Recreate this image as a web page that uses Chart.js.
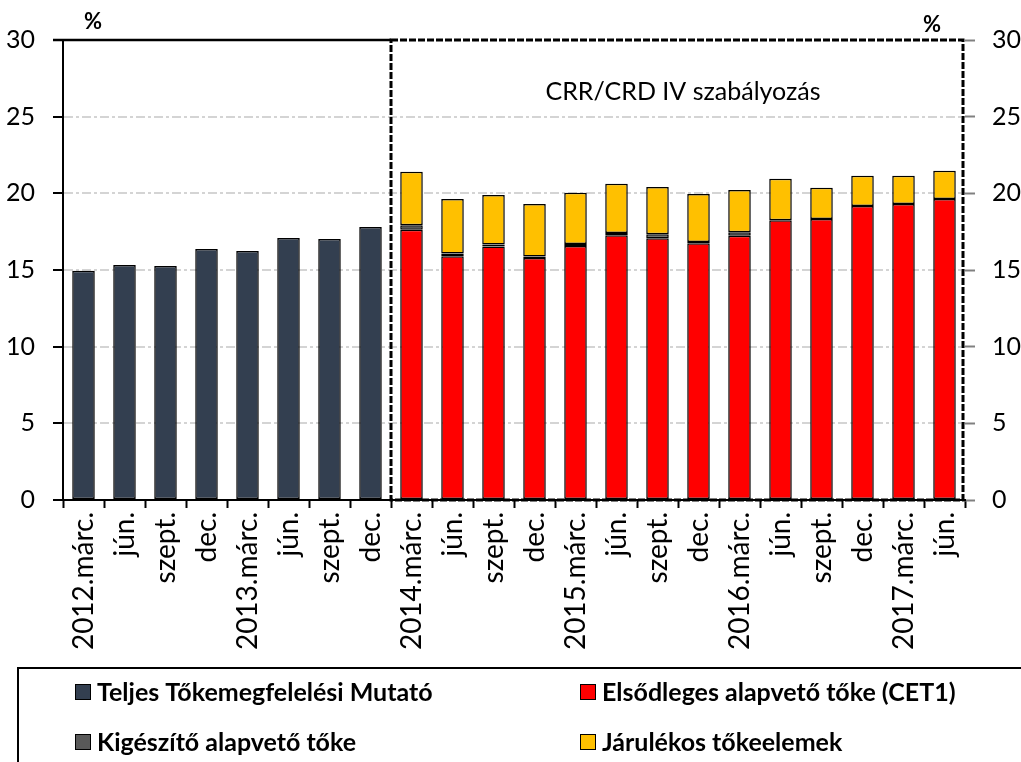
<!DOCTYPE html>
<html><head><meta charset="utf-8">
<script src="https://cdn.jsdelivr.net/npm/chart.js@4.4.0/dist/chart.umd.min.js"></script>
<style>html,body{margin:0;padding:0;background:#fff;} #wrap{width:1021px;height:762px;position:relative;}</style>
</head><body><div id="wrap"><canvas id="c" width="1021" height="762"></canvas></div>
<script>
const categories = ['2012.márc.','jún.','szept.','dec.','2013.márc.','jún.','szept.','dec.',
  '2014.márc.','jún.','szept.','dec.','2015.márc.','jún.','szept.','dec.',
  '2016.márc.','jún.','szept.','dec.','2017.márc.','jún.'];
const totalCapitalRatio = [14.95, 15.33, 15.26, 16.37, 16.24, 17.08, 17.02, 17.8,
  null, null, null, null, null, null, null, null, null, null, null, null, null, null];
const cet1 = [null, null, null, null, null, null, null, null,
  17.63, 15.9, 16.54, 15.79, 16.56, 17.26, 17.07, 16.74, 17.24, 18.25, 18.32, 19.17, 19.3, 19.63];
const additionalTier1 = [null, null, null, null, null, null, null, null,
  0.29, 0.18, 0.13, 0.09, 0.13, 0.15, 0.26, 0.08, 0.22, 0, 0, 0, 0, 0];
const tier2 = [null, null, null, null, null, null, null, null,
  3.49, 3.55, 3.22, 3.42, 3.34, 3.21, 3.09, 3.14, 2.76, 2.70, 2.04, 1.97, 1.84, 1.84];
const seriesNames = ['Teljes Tőkemegfelelési Mutató', 'Elsődleges alapvető tőke (CET1)',
  'Kigészítő alapvető tőke', 'Járulékos tőkeelemek'];
const regimeLabel = 'CRR/CRD IV szabályozás';
const unitLabel = '%';

const FONT = "Lato, 'Open Sans', sans-serif";
Chart.defaults.font.family = FONT;
Chart.defaults.color = '#000';

const overlay = {
  id: 'overlay',
  afterDraw(chart) {
    const ctx = chart.ctx, a = chart.chartArea, xs = chart.scales.x;
    const firstIdx = cet1.findIndex(v => v !== null);
    const bx = xs.getPixelForValue(firstIdx - 0.5);
    ctx.save();
    ctx.strokeStyle = '#000'; ctx.lineWidth = 2.5;
    ctx.beginPath(); ctx.moveTo(a.left - 10, a.top); ctx.lineTo(bx, a.top); ctx.stroke();
    ctx.lineWidth = 3; ctx.setLineDash([7, 2]);
    ctx.strokeRect(bx, a.top, a.right - 2 - bx, a.bottom - a.top);
    ctx.setLineDash([]);
    ctx.fillStyle = '#000';
    ctx.font = "25px " + FONT;
    ctx.textAlign = 'center'; ctx.textBaseline = 'middle';
    ctx.fillText(regimeLabel, (bx + a.right) / 2 + 5, a.top + 52);
    ctx.font = "bold 22px " + FONT;
    ctx.fillText(unitLabel, 93, 22);
    ctx.fillText(unitLabel, 932, 25);
    ctx.lineWidth = 2; ctx.strokeStyle = '#000';
    ctx.strokeRect(18, 668, 1100, 200);
    const cols = [75, 580], rows = [692, 742];
    ctx.font = "bold 25px " + FONT; ctx.textAlign = 'left';
    chart.data.datasets.forEach((ds, i) => {
      const x = cols[i % 2], y = rows[Math.floor(i / 2)];
      ctx.fillStyle = ds.backgroundColor;
      ctx.fillRect(x, y - 8, 16, 16);
      ctx.lineWidth = 1; ctx.strokeStyle = '#000';
      ctx.strokeRect(x + 0.5, y - 7.5, 15, 15);
      ctx.fillStyle = '#000';
      ctx.fillText(ds.label, x + 22, y + 1);
    });
    ctx.restore();
  }
};

new Chart(document.getElementById('c'), {
  type: 'bar',
  data: {
    labels: categories,
    datasets: [
      { label: seriesNames[0], data: totalCapitalRatio, backgroundColor: '#333f50' },
      { label: seriesNames[1], data: cet1, backgroundColor: '#ff0000' },
      { label: seriesNames[2], data: additionalTier1, backgroundColor: '#595959' },
      { label: seriesNames[3], data: tier2, backgroundColor: '#ffc000' }
    ].map(d => Object.assign(d, { borderColor: '#000', borderWidth: 1.5, borderSkipped: false,
      categoryPercentage: 1, barPercentage: 0.55 }))
  },
  options: {
    responsive: false, animation: false, devicePixelRatio: 1,
    layout: { padding: { left: 0, right: 0, top: 40, bottom: 94 } },
    plugins: { legend: { display: false }, tooltip: { enabled: false } },
    scales: {
      x: {
        stacked: true, offset: true,
        grid: { offset: true, drawOnChartArea: false, drawTicks: true, tickLength: 8, tickColor: '#000', tickWidth: 2 },
        border: { color: '#000', width: 2 },
        ticks: { minRotation: 90, maxRotation: 90, autoSkip: false, padding: 4, color: '#000', font: { size: 28 } },
        afterFit(s) { s.height = 168; }
      },
      y: {
        position: 'left', stacked: true, min: 0, max: 30,
        ticks: { stepSize: 5, padding: 18, color: '#000', font: { size: 25 } },
        grid: { color: c => (c.tick && (c.tick.value === 30 || c.tick.value === 0)) ? 'rgba(0,0,0,0)' : '#d4d4d4',
          lineWidth: 2, tickColor: '#000', tickWidth: 2, tickLength: 10 },
        border: { color: '#000', width: 2, dash: [9, 3, 3, 3] },
        afterFit(s) { s.width = 63; }
      },
      y2: {
        position: 'right', min: 0, max: 30,
        ticks: { stepSize: 5, padding: 17, color: '#000', font: { size: 25 } },
        grid: { drawOnChartArea: false, tickColor: '#808080', tickWidth: 2, tickLength: 10 },
        border: { display: false },
        afterFit(s) { s.width = 56; }
      }
    }
  },
  plugins: [overlay]
});
</script></body></html>
